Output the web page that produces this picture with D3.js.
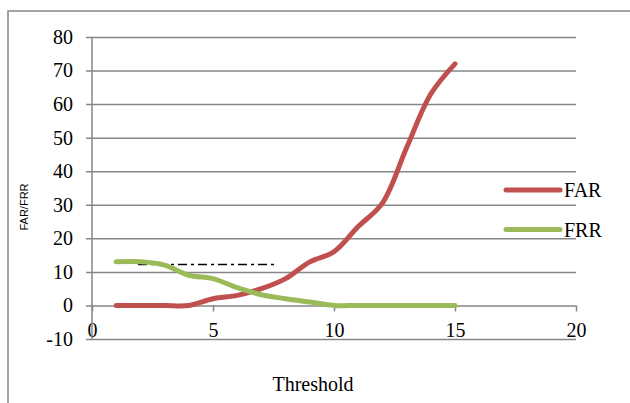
<!DOCTYPE html>
<html>
<head>
<meta charset="utf-8">
<script src="https://cdn.jsdelivr.net/npm/d3@7"></script>
<style>
  html, body { margin: 0; padding: 0; background: #fff; }
  svg { display: block; }
  .tick text { font-family: "Liberation Serif", "Times New Roman", serif; font-size: 20px; fill: #000; }
</style>
</head>
<body>
<svg id="chart" width="630" height="403"></svg>
<script>
// Threshold values on the x axis
const thresholds = [1, 2, 3, 4, 5, 6, 7, 8, 9, 10, 11, 12, 13, 14, 15];
// False acceptance rate per threshold
const farValues = [0, 0, 0, 0, 2, 3, 5, 8, 13, 16, 23.5, 30.5, 47, 63, 72];
// False rejection rate per threshold
const frrValues = [13, 13, 12, 9, 8, 5.3, 3.2, 2, 1, 0, 0, 0, 0, 0, 0];
// Dash-dot reference segment
const refX = [1.9, 7.6];
const refY = [12.2, 12.2];
// Axis ticks
const xTicks = [0, 5, 10, 15, 20];
const yTicks = [-10, 0, 10, 20, 30, 40, 50, 60, 70, 80];
const seriesNames = ["FAR", "FRR"];
const seriesColors = ["#C0504D", "#9BBB59"];

const svg = d3.select("#chart");
const gridColor = "#868686";
const serif = "'Liberation Serif', 'Times New Roman', serif";
const plainNum = d => String(d); // keeps an ASCII hyphen for negatives

// outer chart frame
svg.append("rect")
  .attr("x", 8).attr("y", 11)
  .attr("width", 700).attr("height", 500)
  .attr("fill", "none").attr("stroke", gridColor).attr("stroke-width", 1.5);

const x = d3.scaleLinear().domain([0, 20]).range([92, 576]);
const y = d3.scaleLinear().domain([-10, 80]).range([339, 37]);

// horizontal gridlines + y labels
const yAxis = svg.append("g")
  .attr("transform", `translate(${x(20)},0)`)
  .call(d3.axisLeft(y).tickValues(yTicks).tickFormat(plainNum)
    .tickSize(x(20) - 86).tickPadding(13));
yAxis.attr("font-family", serif).attr("font-size", 20);
yAxis.select(".domain").remove();
yAxis.selectAll(".tick line").attr("stroke", gridColor).attr("stroke-width", 1.5);

// x axis along the zero line
const xAxis = svg.append("g")
  .attr("transform", `translate(0,${y(0)})`)
  .call(d3.axisBottom(x).tickValues(xTicks).tickFormat(plainNum)
    .tickSize(6).tickPadding(11));
xAxis.attr("font-family", serif).attr("font-size", 20);
xAxis.select(".domain").remove();
xAxis.selectAll(".tick line").attr("stroke", gridColor).attr("stroke-width", 1.5);

// vertical axis line
svg.append("line")
  .attr("x1", x(0)).attr("x2", x(0))
  .attr("y1", y(80)).attr("y2", y(-10))
  .attr("stroke", gridColor).attr("stroke-width", 1.5);

// dash-dot reference line
svg.append("line")
  .attr("x1", x(refX[0])).attr("x2", x(refX[1]))
  .attr("y1", y(refY[0])).attr("y2", y(refY[1]))
  .attr("stroke", "#000").attr("stroke-width", 1.6)
  .attr("stroke-dasharray", "9,4,3,4");

// series lines
const line = d3.line()
  .x((d, i) => x(thresholds[i]))
  .y(d => y(d))
  .curve(d3.curveCatmullRom.alpha(0.5));

[farValues, frrValues].forEach((vals, k) => {
  svg.append("path")
    .datum(vals)
    .attr("d", line)
    .attr("fill", "none")
    .attr("stroke", seriesColors[k])
    .attr("stroke-width", 5)
    .attr("stroke-linecap", "round")
    .attr("stroke-linejoin", "round");
});

// legend
const legendY = [190, 229.5];
seriesNames.forEach((name, k) => {
  svg.append("line")
    .attr("x1", 506).attr("x2", 560)
    .attr("y1", legendY[k]).attr("y2", legendY[k])
    .attr("stroke", seriesColors[k]).attr("stroke-width", 5)
    .attr("stroke-linecap", "round");
  svg.append("text")
    .attr("x", 564).attr("y", legendY[k] + 7)
    .attr("font-family", serif)
    .attr("font-size", 20)
    .text(name);
});

// axis titles
svg.append("text")
  .attr("x", 313).attr("y", 391)
  .attr("text-anchor", "middle")
  .attr("font-family", serif)
  .attr("font-size", 20)
  .text("Threshold");

svg.append("text")
  .attr("transform", "translate(27.5,207) rotate(-90)")
  .attr("text-anchor", "middle")
  .attr("font-family", "'Liberation Sans', Arial, sans-serif")
  .attr("font-size", 11)
  .text("FAR/FRR");
</script>
</body>
</html>
